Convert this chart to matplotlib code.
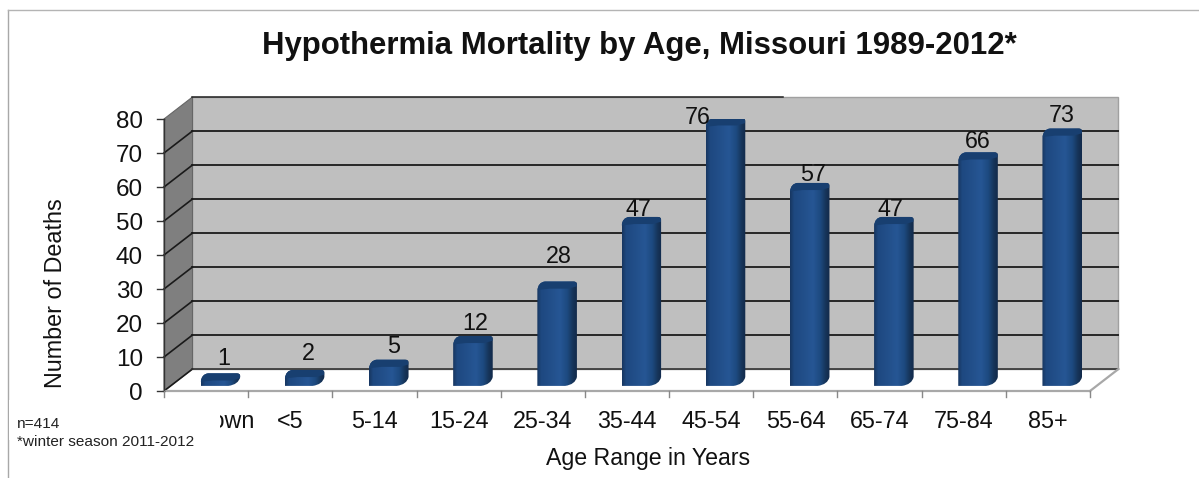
## Hypothermia mortality 3D-look bar chart
import numpy as np
import matplotlib
matplotlib.use("Agg")
import matplotlib.pyplot as plt
from matplotlib.patches import Polygon, PathPatch, Rectangle
from matplotlib.path import Path
from matplotlib.colors import LinearSegmentedColormap

plt.rcParams['font.family'] = ['Liberation Sans', 'DejaVu Sans']

## Data
categories = ["Unknown", "<5", "5-14", "15-24", "25-34", "35-44", "45-54", "55-64", "65-74", "75-84", "85+"]
deaths = [1, 2, 5, 12, 28, 47, 76, 57, 47, 66, 73]
y_ticks = [0, 10, 20, 30, 40, 50, 60, 70, 80]

W, H = 1199, 478
fig = plt.figure(figsize=(W/100, H/100), dpi=100)
fig.patch.set_facecolor("white")

## Front plane of the chart: x 164-1090 px, y 391-119 px
ax = fig.add_axes([164/W, 1-391/H, (1090-164)/W, (391-119)/H])
ax.axis("off")

dx = 28.5/84.2   # depth offset, category units
dy = 22/3.4      # depth offset, value units

## Back wall and side wall
ax.add_patch(Polygon([(dx, dy), (11+dx, dy), (11+dx, 80+dy), (dx, 80+dy)], fc="#bfbfbf", ec="#a0a0a0", lw=1, clip_on=False, zorder=1))
ax.add_patch(Polygon([(0, 0), (dx, dy), (dx, 80+dy), (0, 80)], fc="#7f7f7f", ec="#666666", lw=0.8, clip_on=False, zorder=1))
ax.plot([dx, 7.35], [80+dy, 80+dy], color="#222222", lw=1.1, clip_on=False, zorder=2)

## Gridlines
for v in y_ticks[1:-1]:
    ax.plot([dx, 11+dx], [v+dy, v+dy], color="#262626", lw=1.4, clip_on=False, zorder=2)
for v in y_ticks[:-1]:
    ax.plot([0, dx], [v, v+dy], color="#1a1a1a", lw=1.2, clip_on=False, zorder=2)
ax.plot([dx, 11+dx], [dy, dy], color="#333333", lw=1.2, clip_on=False, zorder=2)

## Floor edges
ax.plot([0, 11], [0, 0], color="#a8a8a8", lw=1.6, clip_on=False, zorder=2)
ax.plot([11, 11+dx], [0, dy], color="#a8a8a8", lw=1.6, clip_on=False, zorder=2)

## Axis ticks
ax.plot([0, 0], [0, 80], color="#333333", lw=1, clip_on=False, zorder=3)
for v in y_ticks:
    ax.plot([-0.08, 0], [v, v], color="#333333", lw=1, clip_on=False, zorder=3)
    ax.text(-0.25, v-0.8, str(v), ha="right", va="center", fontsize=17.5, color="#111111", clip_on=False)
for i in range(12):
    ax.plot([i, i], [0, -1.8], color="#888888", lw=1, clip_on=False, zorder=3)
for i, c in enumerate(categories):
    ax.text(i+0.5, -9.0, c, ha="center", va="center", fontsize=16.8, color="#111111", clip_on=False, zorder=6)

## Bars: a shaded strip clipped to a rounded column outline
left, right = 0.435, 0.905
base = 1.5
shade = LinearSegmentedColormap.from_list("column", [(0, "#173660"), (0.1, "#1e4880"), (0.58, "#265694"),
                                                     (0.76, "#1d4a80"), (0.9, "#163459"), (1, "#122a4a")])
grad = np.linspace(0, 1, 128).reshape(1, -1)
codes_col = [Path.MOVETO, Path.LINETO, Path.CURVE3, Path.CURVE3, Path.LINETO, Path.CURVE3, Path.CURVE3,
             Path.LINETO, Path.CURVE3, Path.CURVE3, Path.CLOSEPOLY]
for i, v in enumerate(deaths):
    top = v + 2.2
    cap = v + 4.2
    L, R = i+left, i+right
    verts = [(L, base), (L+0.33, base), (R-0.02, base+0.4), (R, base+2.6), (R, cap-0.8), (R, cap), (R-0.04, cap),
             (L+0.09, cap), (L+0.01, cap-0.2), (L, top-0.6), (L, base)]
    outline = PathPatch(Path(verts, codes_col), fc="none", ec="none", clip_on=False, zorder=4)
    ax.add_patch(outline)
    im = ax.imshow(grad, extent=(L, R, base, cap), cmap=shade, vmin=0, vmax=1, aspect="auto", zorder=4, interpolation="bilinear", clip_on=True)
    im.set_clip_path(outline)
    ## darker top of the column
    band = ax.add_patch(Polygon([(L, top-0.5), (L+0.15, top-0.1), (R-0.1, top-0.1), (R, top+0.6), (R, cap+1), (L, cap+1)],
                                fc="#183f70", ec="none", zorder=5))
    band.set_clip_path(outline)

ax.set_xlim(0, 11)
ax.set_ylim(0, 80)

## Value labels
label_x = [0.713, 0.71, 0.73, 0.694, 0.69, 0.63, 0.342, 0.708, 0.634, 0.662, 0.665]
label_y = [10.0, 11.5, 13.5, 20.3, 40.0, 53.8, 80.9, 64.1, 53.8, 73.8, 81.5]
for i, v in enumerate(deaths):
    ax.text(i+label_x[i], label_y[i]-0.5, str(v), ha="center", va="center", fontsize=16.8, color="#111111", clip_on=False, zorder=6)

## Mask hiding the start of the first label, as in the source image
fig.add_artist(Rectangle((9/W, 1-440/H), 211/W, 40/H, transform=fig.transFigure, fc="white", ec="none", zorder=5))

## Titles
fig.text(639/W, 1-46/H, "Hypothermia Mortality by Age, Missouri 1989-2012*", ha="center", va="center",
         fontsize=22.4, fontweight="bold", color="#111111")
fig.text(56/W, 1-293/H, "Number of Deaths", rotation=90, ha="center", va="center", fontsize=16.8, color="#111111")
fig.text(648/W, 1-459/H, "Age Range in Years", ha="center", va="center", fontsize=16.7, color="#111111")
fig.text(17/W, 1-424/H, "n=414", ha="left", va="center", fontsize=11.1, color="#222222", zorder=6)
fig.text(17/W, 1-442/H, "*winter season 2011-2012", ha="left", va="center", fontsize=11.1, color="#222222", zorder=6)

## Page border lines
fig.add_artist(plt.Line2D([7.5/W, 7.5/W], [0, 1-10/H], color="#a8a8a8", lw=1))
fig.add_artist(plt.Line2D([7.5/W, 1], [1-10/H, 1-10/H], color="#b4b4b4", lw=1))

fig.savefig("out.png", dpi=100)
